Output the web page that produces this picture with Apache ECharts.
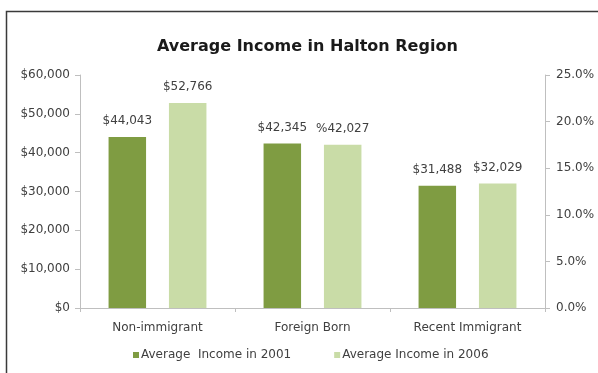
<!DOCTYPE html>
<html>
<head>
<meta charset="utf-8">
<title>Average Income in Halton Region</title>
<script src="https://cdn.jsdelivr.net/npm/echarts@6/dist/echarts.min.js"></script>
<style>
  html, body { margin: 0; padding: 0; background: #fff; }
  #chart { width: 598px; height: 373px; }
</style>
</head>
<body>
<div id="chart"></div>
<script>
// Income categories and yearly averages
const categories = ['Non-immigrant', 'Foreign Born', 'Recent Immigrant'];
const income2001 = [44043, 42345, 31488];
const income2006 = [52766, 42027, 32029];
// Currency sign shown in front of each 2006 value label
const prefix2006 = ['$', '%', '$'];
const seriesNames = ['Average  Income in 2001', 'Average Income in 2006'];

const DARK = '#7f9c42';
const LIGHT = '#c9dca7';
const TEXT = '#404040';
const AXIS = '#bfbfbf';
const FONT = '"DejaVu Sans", "Liberation Sans", Arial, sans-serif';

function money(v) {
  return v.toLocaleString('en-US');
}

const chart = echarts.init(document.getElementById('chart'), null, { renderer: 'canvas' });

chart.setOption({
  animation: false,
  backgroundColor: '#ffffff',
  textStyle: { fontFamily: FONT },
  title: {
    text: 'Average Income in Halton Region',
    left: 152,
    top: 34,
    textStyle: { fontSize: 16, fontWeight: 'bold', color: '#1a1a1a', fontFamily: FONT }
  },
  graphic: [{
    type: 'rect',
    shape: { x: 6.5, y: 11.5, width: 700, height: 500 },
    style: { fill: 'none', stroke: '#3a3a3a', lineWidth: 1.5 },
    silent: true,
    z: 100
  }],
  legend: {
    left: 128,
    top: 344,
    itemWidth: 6,
    itemHeight: 6,
    itemGap: 43,
    icon: 'rect',
    textStyle: { fontSize: 12, color: TEXT, fontFamily: FONT, padding: [0, 0, 0, -3] },
    data: seriesNames
  },
  grid: { left: 80, right: 53, top: 75, bottom: 65 },
  xAxis: {
    type: 'category',
    data: categories,
    axisLine: { lineStyle: { color: AXIS } },
    axisTick: { show: true, length: 4, lineStyle: { color: AXIS } },
    axisLabel: { color: TEXT, fontSize: 12, margin: 14, fontFamily: FONT }
  },
  yAxis: [{
    type: 'value',
    min: 0,
    max: 60000,
    interval: 10000,
    position: 'left',
    axisLine: { show: true, lineStyle: { color: AXIS } },
    axisTick: { show: true, length: 5, lineStyle: { color: AXIS } },
    splitLine: { show: false },
    axisLabel: {
      color: TEXT, fontSize: 12, margin: 10, fontFamily: FONT,
      formatter: v => '$' + money(v)
    }
  }, {
    type: 'value',
    min: 0,
    max: 25,
    interval: 5,
    position: 'right',
    axisLine: { show: true, lineStyle: { color: AXIS } },
    axisTick: { show: true, length: 5, lineStyle: { color: AXIS } },
    splitLine: { show: false },
    axisLabel: {
      color: TEXT, fontSize: 12, margin: 11, fontFamily: FONT,
      formatter: v => v.toFixed(1) + '%'
    }
  }],
  series: [{
    name: seriesNames[0],
    type: 'bar',
    yAxisIndex: 0,
    data: income2001,
    barWidth: 37.5,
    barGap: '61%',
    itemStyle: { color: DARK },
    label: {
      show: true,
      position: 'top',
      distance: 10,
      color: TEXT,
      fontSize: 12,
      fontFamily: FONT,
      formatter: p => '$' + money(p.value)
    }
  }, {
    name: seriesNames[1],
    type: 'bar',
    yAxisIndex: 0,
    data: income2006,
    barWidth: 37.5,
    barGap: '61%',
    itemStyle: { color: LIGHT },
    label: {
      show: true,
      position: 'top',
      distance: 10,
      color: TEXT,
      fontSize: 12,
      fontFamily: FONT,
      formatter: p => prefix2006[p.dataIndex] + money(p.value)
    }
  }]
});
</script>
</body>
</html>
